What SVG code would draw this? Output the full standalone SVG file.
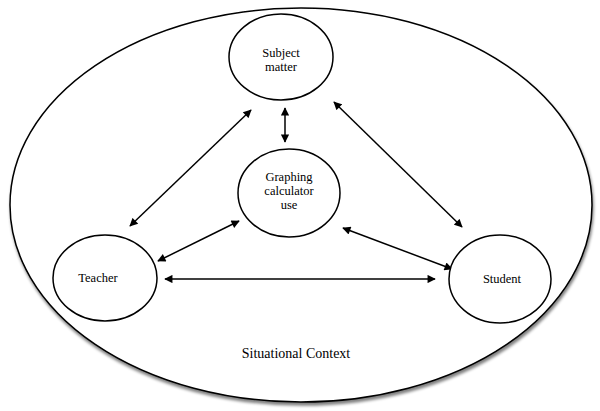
<svg xmlns="http://www.w3.org/2000/svg" width="600" height="411" viewBox="0 0 600 411">
<style>
.node{fill:#fff;stroke:#000;stroke-width:1.5}
text{font-family:"Liberation Serif","Times New Roman",serif;fill:#000;text-anchor:middle}
.lbl{font-size:12.5px}
.conn{stroke:#000;stroke-width:1.5;fill:none;marker-start:url(#ah);marker-end:url(#ah)}
</style>
<defs>
<marker id="ah" viewBox="0 0 10 10" refX="9" refY="5" markerWidth="6.5" markerHeight="5.5" orient="auto-start-reverse" markerUnits="strokeWidth">
<path d="M0,0 L10,5 L0,10 Z" fill="#000"/>
</marker>
<filter id="sh" x="-5%" y="-5%" width="110%" height="112%">
<feGaussianBlur in="SourceAlpha" stdDeviation="1.5"/>
<feOffset dx="1" dy="3" result="b"/>
<feComponentTransfer><feFuncA type="linear" slope="0.5"/></feComponentTransfer>
<feMerge><feMergeNode/><feMergeNode in="SourceGraphic"/></feMerge>
</filter>
</defs>
<rect width="600" height="411" fill="#fff"/>
<g id="context">
<ellipse cx="301" cy="205" rx="291" ry="197" fill="#fff" stroke="#000" stroke-width="1.5" filter="url(#sh)"/>
<text x="296" y="358" font-family="Liberation Serif, serif" font-size="14">Situational Context</text>
</g>
<g id="connectors">
<line class="conn" x1="130" y1="226" x2="251" y2="110"/>
<line class="conn" x1="334" y1="102" x2="462" y2="227"/>
<line class="conn" x1="285" y1="108" x2="285" y2="142"/>
<line class="conn" x1="158" y1="261" x2="239" y2="221"/>
<line class="conn" x1="343" y1="228" x2="452" y2="269"/>
<line class="conn" x1="165" y1="279" x2="435" y2="279"/>
</g>
<g id="subject">
<ellipse class="node" cx="281" cy="57" rx="52" ry="43"/>
<text class="lbl" x="281" y="57" font-family="Liberation Serif, serif">Subject</text>
<text class="lbl" x="281" y="71" font-family="Liberation Serif, serif">matter</text>
</g>
<g id="graphing">
<ellipse class="node" cx="289" cy="193" rx="51" ry="44"/>
<text class="lbl" x="289" y="181" font-family="Liberation Serif, serif">Graphing</text>
<text class="lbl" x="289" y="195" font-family="Liberation Serif, serif">calculator</text>
<text class="lbl" x="289" y="209" font-family="Liberation Serif, serif">use</text>
</g>
<g id="teacher">
<ellipse class="node" cx="105" cy="278" rx="52" ry="43"/>
<text class="lbl" x="98" y="282" font-family="Liberation Serif, serif">Teacher</text>
</g>
<g id="student">
<ellipse class="node" cx="500" cy="279" rx="51" ry="44"/>
<text class="lbl" x="502" y="283" font-family="Liberation Serif, serif">Student</text>
</g>
</svg>
